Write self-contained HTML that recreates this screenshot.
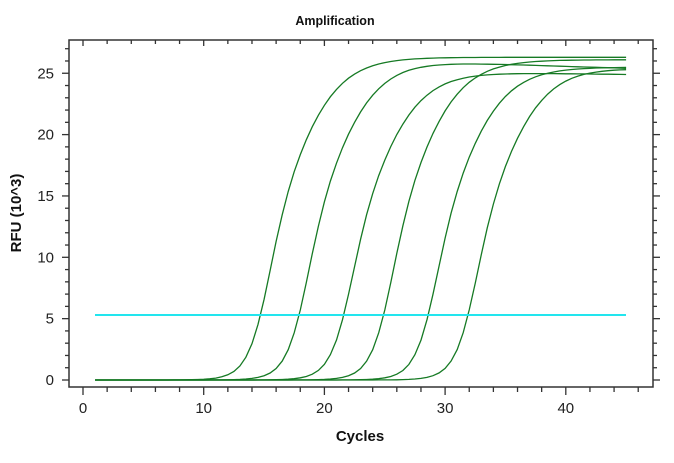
<!DOCTYPE html>
<html><head><meta charset="utf-8"><style>
html,body{margin:0;padding:0;background:#fff;}
svg{display:block;font-family:"Liberation Sans",Arial,sans-serif;}
</style></head><body>
<svg id="s" width="674" height="463" viewBox="0 0 674 463">
<rect width="674" height="463" fill="#fff"/>
<text x="335" y="25" font-size="12.5" font-weight="bold" text-anchor="middle" fill="#111">Amplification</text>
<text x="360" y="441" font-size="15" font-weight="bold" text-anchor="middle" fill="#111">Cycles</text>
<text transform="translate(21,213) rotate(-90)" font-size="15" font-weight="bold" text-anchor="middle" fill="#111">RFU (10^3)</text>
<g id="ax"></g>
<g id="cv"></g>
<line x1="95" y1="315" x2="626" y2="315" stroke="#22e5ee" stroke-width="2"/>
<rect x="69" y="40" width="584" height="347" fill="none" stroke="#333" stroke-width="1.5"/>
</svg>
<script>
var X=function(c){return 83+c*12.07}, Y=function(v){return 380-v*12.27};
var ax=document.getElementById('ax'),h='';
for(var c=0;c<=46;c+=2){var x=X(c);var big=c%10==0;h+='<line x1="'+x+'" y1="387" x2="'+x+'" y2="'+(big?395:392)+'" stroke="#333" stroke-width="1.3"/>';h+='<line x1="'+x+'" y1="40" x2="'+x+'" y2="'+(big?46:44)+'" stroke="#333" stroke-width="1.3"/>';if(big)h+='<text x="'+x+'" y="413" font-size="15" text-anchor="middle" fill="#222">'+c+'</text>';}
for(var v=0;v<=27;v++){var y=Y(v);var big=v%5==0;h+='<line x1="'+(big?62:65)+'" y1="'+y+'" x2="69" y2="'+y+'" stroke="#333" stroke-width="1.3"/>';h+='<line x1="653" y1="'+y+'" x2="'+(big?660:657)+'" y2="'+y+'" stroke="#333" stroke-width="1.3"/>';if(big)h+='<text x="54" y="'+(y+5)+'" font-size="15" text-anchor="end" fill="#222">'+v+'</text>';}
ax.innerHTML=h;
var cts=[14.7,17.9,21.6,24.9,28.6,31.9],P=[26.3,26.0,25.1,26.1,25.5,25.5],E=[26.3,25.4,24.9,26.1,25.5,25.4];
var g='';
function f(c,m,p){var sl=1.05,sh=2.1;var s=sl+(sh-sl)/(1+Math.exp(-(c-m)/1.2));return p/(1+Math.exp(-(c-m)/s));}
for(var i=0;i<6;i++){
 // solve m so that f(ct)=5.3 roughly
 var m=cts[i]+1.2;for(var k=0;k<40;k++){var v0=f(cts[i],m,P[i]);m+= (v0-5.3)*0.1;}
 var pts=[];for(var c=1;c<=45;c+=0.5){var p=P[i]+(E[i]-P[i])*Math.max(0,(c-(m+7))/(45-(m+7)));var v=f(c,m,p);pts.push(X(c).toFixed(1)+','+Y(v).toFixed(1));}
 g+='<polyline points="'+pts.join(' ')+'" fill="none" stroke="#167a24" stroke-width="1.3"/>';}
document.getElementById('cv').innerHTML=g;
</script>
</body></html>
